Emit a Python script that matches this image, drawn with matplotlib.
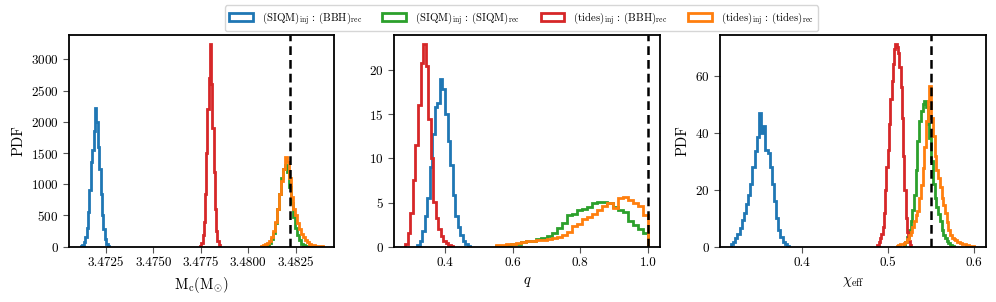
import numpy as np
import matplotlib
matplotlib.use("Agg")
import matplotlib.pyplot as plt
from matplotlib.patches import Patch

plt.rcParams['font.family'] = 'serif'
plt.rcParams['font.serif'] = ['cmr10', 'DejaVu Serif']
plt.rcParams['mathtext.fontset'] = 'cm'
plt.rcParams['axes.formatter.use_mathtext'] = True
plt.rcParams['axes.unicode_minus'] = False

# ---------------- data ----------------
labels = [r'$\mathrm{(SIQM)_{inj}\,:\,(BBH)_{rec}}$',
          r'$\mathrm{(SIQM)_{inj}\,:\,(SIQM)_{rec}}$',
          r'$\mathrm{(tides)_{inj}\,:\,(BBH)_{rec}}$',
          r'$\mathrm{(tides)_{inj}\,:\,(tides)_{rec}}$']
colors = ['#1f77b4', '#2ca02c', '#d62728', '#ff7f0e']

# Panel 1: chirp mass
mc_true = 3.4822
mc_blue_edges = np.linspace(3.47119, 3.47267, 21)
mc_blue = [10, 30, 70, 150, 300, 550, 900, 1350, 1550, 1850, 2225, 2000, 1600,
           1250, 850, 500, 280, 130, 50, 15]
mc_red_edges = np.linspace(3.47746, 3.47851, 17)
mc_red = [15, 60, 180, 400, 850, 1500, 2200, 2700, 3245, 2600, 1900, 1200, 600,
          250, 90, 25]
mc_green_edges = np.linspace(3.48088, 3.48320, 23)
mc_green = [10, 30, 60, 120, 220, 380, 600, 850, 1100, 1250, 1300, 1200, 950,
            700, 480, 300, 180, 100, 50, 25, 10, 5]
mc_orange_edges = np.linspace(3.48067, 3.48394, 32)
mc_orange = [10, 20, 40, 60, 90, 150, 250, 400, 600, 850, 1050, 1250, 1440, 1350,
             1100, 800, 600, 500, 380, 280, 200, 150, 100, 70, 50, 35, 25, 15,
             10, 8, 5]

# Panel 2: mass ratio
q_true = 1.0
q_blue_edges = np.linspace(0.3175, 0.4750, 22)
q_blue = [0.2, 0.7, 1.8, 3.5, 5.5, 9.0, 12.8, 15.8, 16.3, 19.0, 17.8, 15.0, 12.0,
          9.2, 5.8, 3.5, 2.2, 1.3, 0.7, 0.3, 0.1]
q_red_edges = np.linspace(0.2825, 0.4250, 20)
q_red = [0.3, 1.5, 3.8, 7.5, 11.5, 16.0, 20.8, 22.9, 20.5, 14.5, 10.0, 5.1, 3.3,
         2.0, 1.2, 0.7, 0.4, 0.2, 0.05]
q_green_edges = np.linspace(0.55, 1.0, 31)
q_green = [0.05, 0.1, 0.15, 0.25, 0.35, 0.5, 0.6, 0.7, 0.85, 1.0, 1.2, 1.5, 2.1,
           2.7, 3.6, 3.7, 4.1, 4.3, 4.5, 4.9, 5.1, 5.1, 5.0, 4.5, 4.2, 3.9, 2.9,
           2.4, 2.0, 1.5]
q_orange_edges = np.linspace(0.55, 1.0, 31)
q_orange = [0.15, 0.2, 0.25, 0.3, 0.4, 0.55, 0.6, 0.7, 0.75, 0.8, 0.9, 1.0, 1.05,
            1.3, 1.7, 2.3, 2.6, 3.1, 3.4, 3.7, 4.15, 4.6, 4.9, 4.4, 5.5, 5.6, 5.3,
            5.0, 4.6, 3.6]

# Panel 3: effective spin
chi_true = 0.55
chi_blue_edges = np.linspace(0.3175, 0.3850, 28)
chi_blue = [0.8, 1.8, 3.0, 4.5, 6.5, 9.5, 12, 15, 18, 22, 28, 33.5, 38.5, 47, 40,
            42.5, 34, 33, 28, 22, 16, 10, 6, 3.5, 1.8, 0.8, 0.3]
chi_red_edges = np.linspace(0.4875, 0.5265, 27)
chi_red = [0.5, 1.5, 3, 4.5, 7, 12, 20, 28, 34, 43, 52, 58, 64, 69.5, 71, 70, 68,
           63, 56, 45, 32, 20, 10, 5, 2, 0.7]
chi_green_edges = np.linspace(0.518, 0.576, 30)
chi_green = [0.5, 1.5, 3.5, 6, 9, 13, 18, 27, 37, 44, 47.5, 50, 51, 49, 43, 38,
             30, 22, 17, 14, 11.5, 9, 6, 4, 3, 2, 1.2, 0.6, 0.3]
chi_orange_edges = np.linspace(0.510, 0.600, 46)
chi_orange = [0.3, 0.5, 0.8, 1.0, 1.3, 1.8, 2.8, 4, 5.3, 7, 9, 11, 12.5, 17, 21.6,
              27.5, 35, 44, 51, 56.5, 45, 39, 32, 27, 24, 21, 17, 14.6, 12, 8.8,
              6, 4.1, 3.2, 2.8, 2.3, 1.8, 1.5, 1.2, 1.0, 0.8, 0.6, 0.5, 0.4, 0.3,
              0.2]

mc_ticks = [3.4725, 3.4750, 3.4775, 3.4800, 3.4825]
q_ticks = [0.4, 0.6, 0.8, 1.0]
chi_ticks = [0.4, 0.5, 0.6]

# ---------------- figure ----------------
fig = plt.figure(figsize=(9.96, 3.02), dpi=100)
ax1 = fig.add_axes([0.0693, 0.1831, 0.2661, 0.7010])
ax2 = fig.add_axes([0.3959, 0.1831, 0.2668, 0.7010])
ax3 = fig.add_axes([0.7232, 0.1831, 0.2665, 0.7010])

lw = 2.0

def draw(ax, series, truth):
    for (vals, edges), c in zip(series, colors):
        ax.stairs(vals, edges, color=c, lw=lw, baseline=0)
    ax.axvline(truth, color='k', ls='--', lw=1.8, dashes=(3.5, 2))

draw(ax1, [(mc_blue, mc_blue_edges), (mc_green, mc_green_edges),
           (mc_red, mc_red_edges), (mc_orange, mc_orange_edges)], mc_true)
draw(ax2, [(q_blue, q_blue_edges), (q_green, q_green_edges),
           (q_red, q_red_edges), (q_orange, q_orange_edges)], q_true)
draw(ax3, [(chi_blue, chi_blue_edges), (chi_green, chi_green_edges),
           (chi_red, chi_red_edges), (chi_orange, chi_orange_edges)], chi_true)

ax1.set_xlim(3.47056, 3.48452)
ax1.set_ylim(0, 3389)
ax1.set_xticks(mc_ticks)
ax1.set_xticklabels([f'{t:.4f}' for t in mc_ticks])
ax1.set_yticks([0, 500, 1000, 1500, 2000, 2500, 3000])

ax2.set_xlim(0.2501, 1.0355)
ax2.set_ylim(0, 23.96)
ax2.set_xticks(q_ticks)
ax2.set_xticklabels([f'{t:.1f}' for t in q_ticks])
ax2.set_yticks([0, 5, 10, 15, 20])

ax3.set_xlim(0.3052, 0.6133)
ax3.set_ylim(0, 74.3)
ax3.set_xticks(chi_ticks)
ax3.set_xticklabels([f'{t:.1f}' for t in chi_ticks])
ax3.set_yticks([0, 20, 40, 60])

ax1.set_xlabel(r'$\mathrm{M_c(M_{\odot})}$', fontsize=10.5)
ax2.set_xlabel(r'$q$', fontsize=10.5)
ax3.set_xlabel(r'$\chi_{\mathrm{eff}}$', fontsize=10.5)
ax1.set_ylabel('PDF', fontsize=10.5)
ax3.set_ylabel('PDF', fontsize=10.5)

for ax in (ax1, ax2, ax3):
    for s in ax.spines.values():
        s.set_linewidth(1.3)
    ax.tick_params(labelsize=9.5, direction='out', length=4, width=0.8,
                   color='#555555')

handles = [Patch(facecolor='none', edgecolor=c, lw=2) for c in colors]
fig.legend(handles, labels, loc='upper center', bbox_to_anchor=(0.5235, 1.0),
           ncol=4, fontsize=7.8, frameon=True, handlelength=2.2,
           columnspacing=1.9, borderpad=0.4)

fig.savefig('out.png', dpi=100)
